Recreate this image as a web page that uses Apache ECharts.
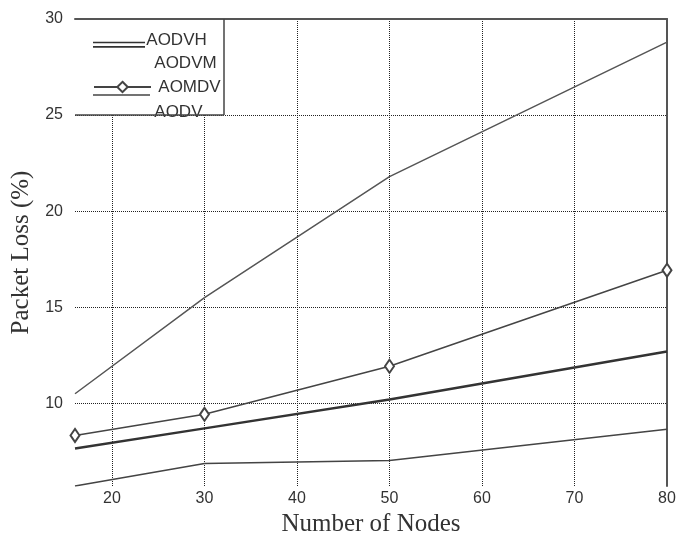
<!DOCTYPE html>
<html>
<head>
<meta charset="utf-8">
<script src="https://cdn.jsdelivr.net/npm/echarts@6/dist/echarts.min.js"></script>
<style>html,body{margin:0;padding:0;background:#fff}#c{width:694px;height:542px}</style>
</head>
<body>
<div id="c"></div>
<script>
const nodes = [16, 30, 50, 80];
const xTicks = [20, 30, 40, 50, 60, 70, 80];
const yTicks = [10, 15, 20, 25, 30];
const aodvh = [7.65, 8.7, 10.2, 12.7];
const aodvm = [5.7, 6.87, 7.03, 8.65];
const aomdv = [8.33, 9.43, 11.93, 16.93];
const aodv = [10.5, 15.5, 21.8, 28.8];

const pair = arr => nodes.map((x, i) => [x, arr[i]]);
const chart = echarts.init(document.getElementById('c'));
const grid = {left: 75, right: 27, top: 19, bottom: 56};
const dotted = {color: '#222', width: 1, type: [1, 1]};
const lblFont = {fontFamily: 'Liberation Sans', fontSize: 16, color: '#333'};
const legFont = {fontFamily: 'Liberation Sans', fontSize: 17, color: '#333'};

// text-only legend entry (icon hidden)
const textLeg = (name, textLeft, centerY) => ({
  data: [name], left: textLeft - 10, top: centerY - 6, itemWidth: 1, itemHeight: 12, padding: 0,
  itemStyle: {opacity: 0}, lineStyle: {opacity: 0}, textStyle: legFont
});
// icon-only legend entry (text empty)
const iconLeg = (name, left, top, w, h, extra) => Object.assign({
  data: [name], left: left, top: top, itemWidth: w, itemHeight: h, padding: 0,
  formatter: () => '', textStyle: legFont
}, extra || {});

chart.setOption({
  animation: false,
  grid: grid,
  xAxis: [{
    type: 'value', min: 16, max: 80,
    name: 'Number of Nodes', nameLocation: 'middle', nameGap: 26,
    nameTextStyle: {fontFamily: 'Liberation Serif', fontSize: 25, color: '#333'},
    axisLine: {show: false}, axisTick: {show: false, customValues: [20, 30, 40, 50, 60, 70]},
    axisLabel: Object.assign({customValues: xTicks, margin: 5}, lblFont),
    splitLine: {show: true, lineStyle: dotted}
  }, {
    type: 'value', min: 16, max: 80, position: 'top',
    axisLine: {show: true, lineStyle: {color: '#555', width: 2}},
    axisTick: {show: false}, axisLabel: {show: false}, splitLine: {show: false}
  }],
  yAxis: [{
    type: 'value', min: 5.7, max: 30,
    name: 'Packet Loss (%)', nameLocation: 'middle', nameGap: 38,
    nameTextStyle: {fontFamily: 'Liberation Serif', fontSize: 25, color: '#333'},
    axisLine: {show: false}, axisTick: {show: false, customValues: [10, 15, 20, 25]},
    axisLabel: Object.assign({customValues: yTicks, margin: 12}, lblFont),
    splitLine: {show: true, lineStyle: dotted}
  }, {
    type: 'value', min: 5.7, max: 30, position: 'right',
    axisLine: {show: true, lineStyle: {color: '#555', width: 2}},
    axisTick: {show: false}, axisLabel: {show: false}, splitLine: {show: false}
  }],
  legend: [
    iconLeg('AODVH', 93, 41.7, 52, 6, {
      icon: 'path://M0,0L52,0L52,1.6L0,1.6Z M0,4.4L52,4.4L52,6L0,6Z', itemStyle: {color: '#333'}}),
    iconLeg('AOMDV', 93, 80.5, 57, 13),
    iconLeg('AODV', 93, 92, 57, 6, {
      icon: 'path://M0,0L57,0L57,1.5L0,1.5Z', itemStyle: {color: '#444'}}),
    textLeg('AODVH', 146, 38),
    textLeg('AODVM', 154, 61),
    textLeg('AOMDV', 157, 85),
    textLeg('AODV', 154, 110)
  ],
  graphic: [
    {type: 'rect', z: 1, shape: {x: 75, y: 20, width: 149, height: 95}, style: {fill: '#fff'}},
    {type: 'line', z: 10, shape: {x1: 224, y1: 19, x2: 224, y2: 115}, style: {stroke: '#444', lineWidth: 1.5}},
    {type: 'line', z: 10, shape: {x1: 75, y1: 115, x2: 224, y2: 115}, style: {stroke: '#444', lineWidth: 1.5}}
  ],
  series: [
    {name: 'AODVH', type: 'line', data: pair(aodvh), symbol: 'none',
     lineStyle: {color: '#333', width: 2.4}, itemStyle: {color: '#333'}},
    {name: 'AODVM', type: 'line', data: pair(aodvm), symbol: 'none',
     lineStyle: {color: '#444', width: 1.6}, itemStyle: {color: '#444'}},
    {name: 'AOMDV', type: 'line', data: pair(aomdv), symbol: 'emptyDiamond', symbolSize: [9, 13],
     lineStyle: {color: '#444', width: 1.5}, itemStyle: {color: '#444', borderWidth: 1.5}},
    {name: 'AODV', type: 'line', data: pair(aodv), symbol: 'none',
     lineStyle: {color: '#555', width: 1.5}, itemStyle: {color: '#555'}}
  ]
});
</script>
</body>
</html>
